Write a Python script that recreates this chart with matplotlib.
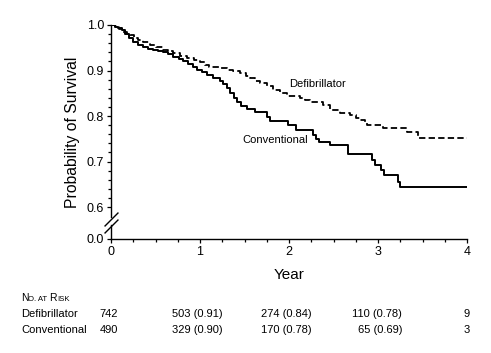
import numpy as np
import matplotlib
matplotlib.use("Agg")
import matplotlib.pyplot as plt

plt.rcParams['font.family'] = ['Liberation Sans', 'DejaVu Sans']

# Kaplan-Meier curves (years, survival)
conv_t = [0, 0.04, 0.08, 0.12, 0.16, 0.20, 0.25, 0.30, 0.36, 0.42, 0.47, 0.53,
          0.58, 0.64, 0.70, 0.76, 0.81, 0.86, 0.92, 0.97, 1.02, 1.08, 1.15,
          1.22, 1.26, 1.30, 1.34, 1.38, 1.42, 1.46, 1.53, 1.62, 1.75, 1.79,
          1.99, 2.08, 2.27, 2.30, 2.34, 2.46, 2.66, 2.93, 2.97, 3.03, 3.07,
          3.22, 3.25, 4.0]
conv_s = [1.0, 0.996, 0.993, 0.988, 0.980, 0.972, 0.963, 0.957, 0.952, 0.948,
          0.945, 0.943, 0.941, 0.936, 0.930, 0.925, 0.920, 0.915, 0.908, 0.902,
          0.897, 0.890, 0.884, 0.877, 0.870, 0.862, 0.851, 0.840, 0.830, 0.822,
          0.815, 0.809, 0.797, 0.789, 0.780, 0.770, 0.758, 0.750, 0.743, 0.736,
          0.716, 0.703, 0.692, 0.681, 0.670, 0.655, 0.644, 0.644]

defib_t = [0, 0.04, 0.09, 0.135, 0.18, 0.21, 0.26, 0.30, 0.36, 0.44, 0.50, 0.58,
           0.64, 0.70, 0.78, 0.854, 0.93, 1.0, 1.06, 1.10, 1.225, 1.30, 1.37,
           1.45, 1.52, 1.56, 1.62, 1.67, 1.75, 1.82, 1.90, 1.98, 2.12, 2.18,
           2.24, 2.38, 2.46, 2.57, 2.69, 2.75, 2.80, 2.85, 2.88, 3.06, 3.33,
           3.45, 4.0]
defib_s = [1.0, 0.997, 0.992, 0.985, 0.981, 0.978, 0.972, 0.966, 0.962, 0.956,
           0.952, 0.945, 0.942, 0.938, 0.932, 0.927, 0.922, 0.918, 0.912, 0.908,
           0.905, 0.901, 0.898, 0.895, 0.889, 0.884, 0.878, 0.872, 0.865, 0.857,
           0.851, 0.844, 0.840, 0.835, 0.831, 0.824, 0.813, 0.807, 0.802, 0.796,
           0.791, 0.785, 0.780, 0.774, 0.765, 0.752, 0.752]

groups = ["Defibrillator", "Conventional"]
risk_defib = ["742", "503 (0.91)", "274 (0.84)", "110 (0.78)", "9"]
risk_conv = ["490", "329 (0.90)", "170 (0.78)", "65 (0.69)", "3"]

# broken y axis: 0.0 squeezed just below 0.6
GAP = 0.0703
def fwd(y):
    y = np.asarray(y, dtype=float)
    return np.where(y >= 0.6, y, 0.6 - GAP + y * (GAP / 0.6))
def inv(y):
    y = np.asarray(y, dtype=float)
    return np.where(y >= 0.6, y, (y - (0.6 - GAP)) * (0.6 / GAP))

fig = plt.figure(figsize=(4.91, 3.53), dpi=100)
ax = fig.add_axes([111/491, 1 - 239/353, 356/491, 214/353])
ax.set_yscale('function', functions=(fwd, inv))

ax.plot(conv_t, conv_s, drawstyle='steps-post', color='black', lw=1.4)
ax.plot(defib_t, defib_s, drawstyle='steps-post', color='black', lw=1.3,
        dashes=(3.5, 1.8))

ax.set_xlim(0, 4)
ax.set_ylim(0, 1.0)
ax.set_xticks([0, 1, 2, 3, 4])
ax.set_xticks(np.arange(0, 4.01, 0.25), minor=True)
ax.set_yticks([0.0, 0.6, 0.7, 0.8, 0.9, 1.0])
ax.set_yticklabels(['0.0', '0.6', '0.7', '0.8', '0.9', '1.0'])
ax.set_yticks(np.arange(0.62, 0.99, 0.02), minor=True)
ax.tick_params(which='major', length=3, width=0.9, labelsize=9, pad=2)
ax.tick_params(which='minor', length=2.2, width=0.9)

for s in ['top', 'right', 'left']:
    ax.spines[s].set_visible(False)
ax.spines['bottom'].set_linewidth(1.0)

# left axis drawn in two pieces with a break mark
ax.plot([0, 0], [(239 - 217) / 214, 1], transform=ax.transAxes, color='black',
        lw=1.0, clip_on=False)
ax.plot([0, 0], [0, (239 - 225) / 214], transform=ax.transAxes, color='black',
        lw=1.0, clip_on=False)
ax.plot([0, 0], [(239 - 219) / 214, (239 - 226) / 214], transform=ax.transAxes,
        marker=[(-1, -1), (1, 1)], markersize=10, linestyle='none', color='black',
        mec='black', mew=1.0, clip_on=False)

ax.set_ylabel('Probability of Survival', fontsize=11.3, labelpad=5)
ax.set_xlabel('Year', fontsize=11, labelpad=7)

ax.text(2.0, 0.870, 'Defibrillator', fontsize=8, ha='left', va='center')
ax.text(1.48, 0.748, 'Conventional', fontsize=8, ha='left', va='center')

# number at risk table, positions in figure pixels
def fx(px):
    return px / 491
def fy(py):
    return 1 - py / 353

# small caps heading built from pieces chained to each other
prev = fig.text(fx(21), fy(301), 'N', fontsize=7.5, va='baseline')
for piece, size in [('O. AT ', 5.6), ('R', 7.5), ('ISK', 5.6)]:
    prev = ax.annotate(piece, xy=(1, 0), xycoords=prev, fontsize=size,
                       va='bottom', ha='left', annotation_clip=False)

col_right = [118, 223, 312, 402, 470]
for row, (name, vals) in enumerate(zip(groups, [risk_defib, risk_conv])):
    y = fy(317 + row * 16)
    fig.text(fx(21), y, name, fontsize=8, va='baseline')
    for xr, v in zip(col_right, vals):
        fig.text(fx(xr), y, v, fontsize=8, va='baseline', ha='right')

fig.savefig('out.png', dpi=100)
